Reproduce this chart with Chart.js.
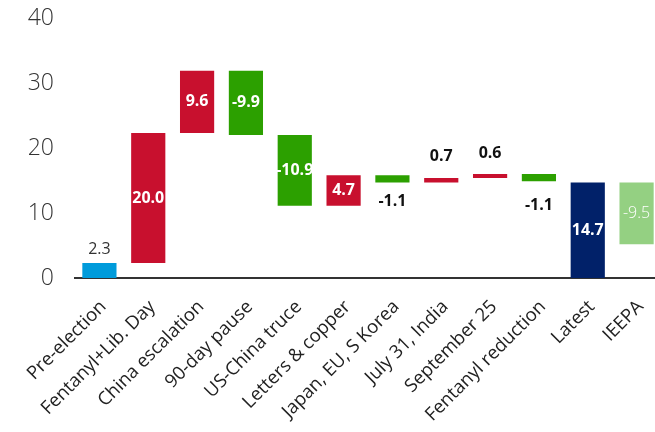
<!DOCTYPE html>
<html>
<head>
<meta charset="utf-8">
<script src="https://cdn.jsdelivr.net/npm/chart.js@4"></script>
<style>
  html, body { margin: 0; padding: 0; background: #fff; overflow: hidden; }
  #wrap { width: 655px; height: 432px; overflow: hidden; }
</style>
</head>
<body>
<div id="wrap"><canvas id="tariffChart" width="661" height="432"></canvas></div>
<script>
const categories = [
  'Pre-election', 'Fentanyl+Lib. Day', 'China escalation', '90-day pause',
  'US-China truce', 'Letters & copper', 'Japan, EU, S Korea', 'July 31, India',
  'September 25', 'Fentanyl reduction', 'Latest', 'IEEPA'
];
// step size of each bar; totals start from zero
const changes = [2.3, 20.0, 9.6, -9.9, -10.9, 4.7, -1.1, 0.7, 0.6, -1.1, 14.7, -9.5];
const isTotal = [true, false, false, false, false, false, false, false, false, false, true, false];
const yTicks = [0, 10, 20, 30, 40];

const barColors = [
  '#009bdb', '#c8102e', '#c8102e', '#2ca000', '#2ca000', '#c8102e',
  '#2ca000', '#c8102e', '#c8102e', '#2ca000', '#012169', '#94d082'
];
const labelSpot = ['above', 'inside', 'inside', 'inside', 'inside', 'inside',
  'below', 'above', 'above', 'below', 'inside', 'inside'];

// build floating [start, end] pairs for the waterfall
const floating = [];
let level = 0;
for (let i = 0; i < changes.length; i++) {
  const start = isTotal[i] ? 0 : level;
  const end = start + changes[i];
  floating.push([start, end]);
  level = end;
}

const barLabels = {
  id: 'barLabels',
  afterDatasetsDraw(chart) {
    const ctx = chart.ctx;
    const meta = chart.getDatasetMeta(0);
    ctx.save();
    ctx.textAlign = 'center';
    ctx.textBaseline = 'middle';
    meta.data.forEach((bar, i) => {
      const top = Math.min(bar.y, bar.base);
      const bottom = Math.max(bar.y, bar.base);
      const text = changes[i].toFixed(1);
      let y;
      if (labelSpot[i] === 'inside') {
        y = (top + bottom) / 2;
        ctx.font = i === 11 ? '300 16px "Open Sans"' : 'bold 16px "Open Sans"';
        ctx.fillStyle = '#ffffff';
      } else if (labelSpot[i] === 'above') {
        y = top - (i === 0 ? 14 : 21);
        ctx.font = i === 0 ? '16px "Open Sans"' : 'bold 16px "Open Sans"';
        ctx.fillStyle = i === 0 ? '#333333' : '#111111';
      } else {
        y = bottom + (i === 9 ? 24 : 19);
        ctx.font = 'bold 16px "Open Sans"';
        ctx.fillStyle = '#111111';
      }
      ctx.fillText(text, bar.x, y);
    });
    ctx.restore();
  }
};

new Chart(document.getElementById('tariffChart'), {
  type: 'bar',
  data: {
    labels: categories,
    datasets: [{
      data: floating,
      backgroundColor: barColors,
      borderWidth: 0,
      borderSkipped: false,
      categoryPercentage: 1.0,
      barPercentage: 0.7
    }]
  },
  options: {
    responsive: false,
    animation: false,
    layout: { padding: { top: 18, right: 0, left: 0, bottom: 0 } },
    plugins: {
      legend: { display: false },
      tooltip: { enabled: false }
    },
    scales: {
      x: {
        afterFit(scale) {
          scale.height = 154;
          scale.paddingRight = 0;
        },
        grid: { display: false },
        border: { display: true, color: '#333333', width: 2 },
        ticks: {
          color: '#222222',
          font: { family: 'Open Sans', size: 18.5 },
          minRotation: 45,
          maxRotation: 45,
          autoSkip: false,
          labelOffset: 4,
          padding: 10
        }
      },
      y: {
        min: 0,
        max: 40,
        afterFit(scale) {
          scale.width = 75;
          scale.paddingTop = 0;
          scale.paddingBottom = 0;
        },
        afterBuildTicks(scale) {
          scale.ticks = yTicks.map(v => ({ value: v }));
        },
        grid: { display: false },
        border: { display: false },
        ticks: {
          color: '#333333',
          font: { family: 'Open Sans', size: 23, weight: '300' },
          padding: 13
        }
      }
    }
  },
  plugins: [barLabels]
});
</script>
</body>
</html>
